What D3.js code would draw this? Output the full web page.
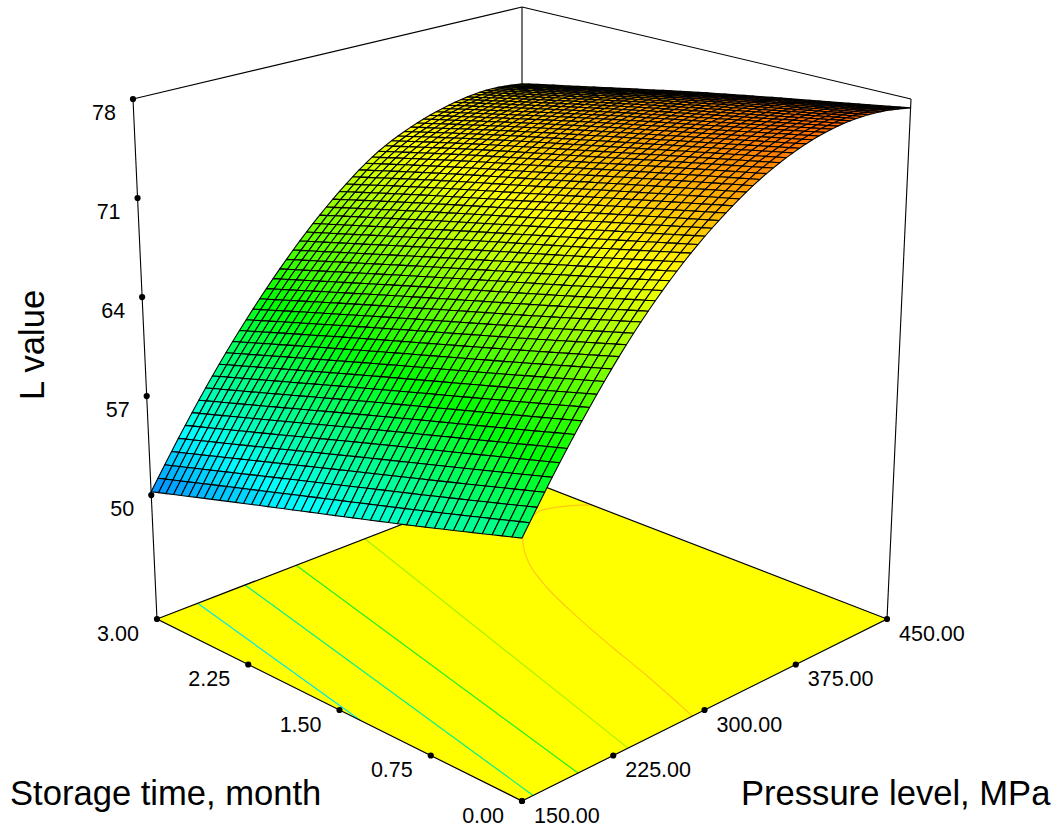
<!DOCTYPE html>
<html>
<head>
<meta charset="utf-8">
<script src="https://cdn.jsdelivr.net/npm/d3@7"></script>
<style>
  body { margin: 0; background: #fff; }
  text { font-family: "Liberation Sans", Arial, sans-serif; fill: #000; }
</style>
</head>
<body>
<svg id="board" width="1059" height="836"></svg>
<script>
let timeTicks = [0, 0.75, 1.5, 2.25, 3]
let pressureTicks = [150, 225, 300, 375, 450]
let lTicks = [50, 57, 64, 71, 78]

// L value, one row per time tick, one column every 25 MPa.
// the fine mesh below is resampled from this table, it is too dense to read cell by cell
let pressureLevels = [150, 175, 200, 225, 250, 275, 300, 325, 350, 375, 400, 425, 450]
let lAtTime0 = [58.05, 61.8, 65.1, 68.1, 70.6, 72.7, 74.4, 75.8, 76.8, 77.5, 77.8, 77.8, 77.4]
let lAtTime075 = [56.0, 59.9, 63.2, 66.2, 68.8, 71.0, 72.9, 74.4, 75.4, 76.1, 76.5, 76.6, 76.2]
let lAtTime150 = [54.1, 58.0, 61.4, 64.4, 67.1, 69.4, 71.3, 72.9, 74.0, 74.8, 75.2, 75.3, 75.0]
let lAtTime225 = [52.2, 56.0, 59.5, 62.6, 65.3, 67.7, 69.8, 71.5, 72.6, 73.3, 73.8, 73.9, 73.6]
let lAtTime3 = [50.25, 54.1, 57.6, 60.7, 63.5, 66.0, 68.1, 69.9, 71.0, 71.8, 72.3, 72.5, 72.2]

// contours on the floor, [time, pressure]
let contour1 = [[3, 180], [1.23, 150]]
let contour2 = [[3, 216], [0, 158]]
let contour3 = [[3, 256], [0, 191]]
let contour4 = [[3, 312], [0, 229]]
let contour5 = [[0, 280], [0.5, 298], [0.9, 311], [1.3, 325], [1.7, 341], [2.02, 358], [2.32, 383], [2.53, 416], [2.5, 432], [2.37, 450]]

let lRows = [lAtTime0, lAtTime075, lAtTime150, lAtTime225, lAtTime3]
let contours = [contour1, contour2, contour3, contour4, contour5]
let contourColors = ['#00e8e8', '#00f090', '#20f020', '#a8f000', '#ffc818']

let board = d3.select('#board')

let timeScale = d3.scaleLinear().domain([0, 3]).range([0, 1])
let pressureScale = d3.scaleLinear().domain([150, 450]).range([0, 1])
let lScale = d3.scaleLinear().domain([50, 78]).range([0.25, 1])

let colorScale = d3.scaleLinear()
    .domain([46, 54, 62, 71, 82])
    .range(['#0000ff', '#00ffff', '#00ff00', '#ffff00', '#ff0000'])

// perspective view of the box, u = time, v = pressure, w = height (all 0..1)
let project = function(u, v, w) {
    let s = u + v
    let d = 1 + 0.1454 * s - 0.0706 * w
    return [
        522 + 418.1 * (v - u) / d,
        (801 - 92 * s - 602.6 * w) / d - 4.8 * w * u * v
    ]
}

let floorPoint = function(time, pressure) {
    return project(timeScale(time), pressureScale(pressure), 0)
}

let line = d3.line()
let curve = d3.line().curve(d3.curveCatmullRom)

// floor
let F0 = floorPoint(0, 150), L0 = floorPoint(3, 150), R0 = floorPoint(0, 450), B0 = floorPoint(3, 450)
let L1 = project(1, 0, 1), R1 = project(0, 1, 1), B1 = project(1, 1, 1)

board.append('path')
    .attr('d', line([F0, R0, B0, L0]) + 'Z')
    .attr('fill', '#ffff00')

contours.forEach((c, i) => {
    board.append('path')
        .attr('d', curve(c.map((x) => floorPoint(x[0], x[1]))))
        .attr('fill', 'none')
        .attr('stroke', contourColors[i])
        .attr('stroke-width', 1.2)
})

board.append('path')
    .attr('d', line([F0, R0, B0, L0]) + 'Z')
    .attr('fill', 'none')
    .attr('stroke', '#000')
    .attr('stroke-width', 1.2)

// box frame
let frame = [[L0, L1], [R0, R1], [B0, B1], [L1, B1], [R1, B1]]
board.selectAll('.frame')
    .data(frame)
    .enter()
    .append('path')
    .attr('class', 'frame')
    .attr('d', (x) => line(x))
    .attr('fill', 'none')
    .attr('stroke', '#000')
    .attr('stroke-width', 1.1)

// surface, back cells first
let nTime = 43
let nPressure = 57

let lAt = function(time, pressure) {
    let p = pressureScale(pressure)
    let column = lRows.map((row) => d3.interpolateBasis(row)(p))
    return d3.interpolateBasis(column)(timeScale(time))
}

let timeGrid = d3.range(nTime + 1).map((i) => 3 * i / nTime)
let pressureGrid = d3.range(nPressure + 1).map((j) => 150 + 300 * j / nPressure)

let surface = timeGrid.map((t) => pressureGrid.map((p) => lAt(t, p)))

let cells = []
for (let i = 0; i < nTime; i++) {
    for (let j = 0; j < nPressure; j++) {
        cells.push({ i: i, j: j })
    }
}
cells.sort((a, b) => (b.i + b.j * nTime / nPressure) - (a.i + a.j * nTime / nPressure))

let vertex = function(i, j) {
    return project(timeScale(timeGrid[i]), pressureScale(pressureGrid[j]), lScale(surface[i][j]))
}

board.selectAll('.cell')
    .data(cells)
    .enter()
    .append('path')
    .attr('class', 'cell')
    .attr('d', (x) => line([vertex(x.i, x.j), vertex(x.i + 1, x.j), vertex(x.i + 1, x.j + 1), vertex(x.i, x.j + 1)]) + 'Z')
    .attr('fill', (x) => colorScale((surface[x.i][x.j] + surface[x.i + 1][x.j] + surface[x.i + 1][x.j + 1] + surface[x.i][x.j + 1]) / 4))
    .attr('stroke', '#000')
    .attr('stroke-width', 1.1)
    .attr('stroke-linejoin', 'round')

// ticks sit evenly along the box edges in the picture
let along = function(a, b, f) {
    return [d3.interpolateNumber(a[0], b[0])(f), d3.interpolateNumber(a[1], b[1])(f)]
}
let L50 = project(1, 0, lScale(50))
let lFrac = d3.scaleLinear().domain([50, 78]).range([0, 1])

let timePoints = timeTicks.map((t) => ({ p: along(F0, L0, timeScale(t)), label: d3.format('.2f')(t) }))
let pressurePoints = pressureTicks.map((t) => ({ p: along(F0, R0, pressureScale(t)), label: d3.format('.2f')(t) }))
let lPoints = lTicks.map((t) => ({ p: along(L50, L1, lFrac(t)), label: String(t) }))

let dots = timePoints.concat(pressurePoints).concat(lPoints)
board.selectAll('.dot')
    .data(dots)
    .enter()
    .append('circle')
    .attr('class', 'dot')
    .attr('cx', (x) => x.p[0])
    .attr('cy', (x) => x.p[1])
    .attr('r', 3.1)
    .attr('fill', '#000')

let tickLabels = function(points, dx, dy, anchor) {
    board.selectAll(null)
        .data(points)
        .enter()
        .append('text')
        .attr('x', (x) => x.p[0] + dx)
        .attr('y', (x) => x.p[1] + dy)
        .attr('text-anchor', anchor)
        .attr('font-size', 21.5)
        .text((x) => x.label)
}

tickLabels(timePoints, -18, 22, 'end')
tickLabels(pressurePoints, 12, 22, 'start')
tickLabels(lPoints, -17, 21, 'end')

board.append('text')
    .attr('x', 10).attr('y', 805)
    .attr('font-size', 34.6)
    .text('Storage time, month')

board.append('text')
    .attr('x', 741).attr('y', 805)
    .attr('font-size', 34.6)
    .text('Pressure level, MPa')

board.append('text')
    .attr('transform', 'translate(44,345) rotate(-90)')
    .attr('text-anchor', 'middle')
    .attr('font-size', 34.6)
    .text('L value')
</script>
</body>
</html>
